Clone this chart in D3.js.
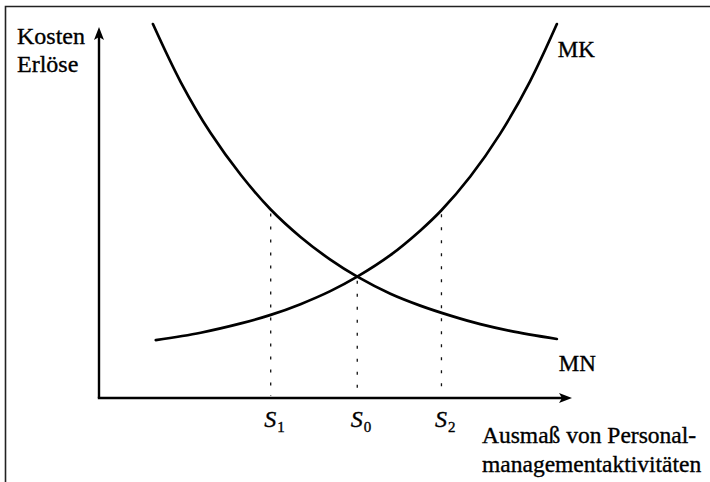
<!DOCTYPE html>
<html>
<head>
<meta charset="utf-8">
<script src="https://cdn.jsdelivr.net/npm/d3@7"></script>
<style>
  html, body { margin: 0; padding: 0; background: #fff; }
  svg { display: block; }
  text { font-family: "Liberation Serif", "Times New Roman", serif; fill: #000; stroke: #000; stroke-width: 0.35px; }
</style>
</head>
<body>
<svg id="chart" width="710" height="482"></svg>
<script>
// ---- data (arbitrary units 0..100) ----
const mnX = [11.4, 17.3, 23.6, 30.0, 36.3, 42.6, 48.9, 54.6, 61.6, 67.9, 74.3, 80.6, 86.9, 96.8];
const mnY = [100.8, 85.1, 71.4, 60.1, 50.8, 43.4, 37.3, 32.7, 28.1, 24.9, 22.2, 19.9, 18.1, 15.9];
const mkX = [12.0, 21.5, 30.0, 36.3, 42.6, 48.9, 54.6, 61.6, 67.9, 72.4, 78.5, 84.8, 91.1, 96.8];
const mkY = [15.6, 17.6, 20.1, 22.4, 25.3, 28.8, 32.7, 38.5, 45.1, 50.6, 59.7, 71.2, 85.3, 100.8];
const tickValues = [36.3, 54.6, 72.4];
const tickSubs = ["1", "0", "2"];
const tickTops = [50.8, 32.7, 50.6];
const seriesNames = ["MK", "MN"];
const yLabel = ["Kosten", "Erlöse"];
const xLabel = ["Ausmaß von Personal-", "managementaktivitäten"];

const svg = d3.select("#chart");
const x = d3.scaleLinear().domain([0, 100]).range([99, 572]);
const y = d3.scaleLinear().domain([0, 100]).range([398, 27]);

// frame (top + left)
svg.append("path")
  .attr("d", "M5.5,482 L5.5,6.5 L710,6.5")
  .attr("fill", "none").attr("stroke", "#222").attr("stroke-width", 1.6);

// dotted guide lines
svg.selectAll("line.guide").data(tickValues).join("line")
  .attr("class", "guide")
  .attr("x1", d => x(d)).attr("x2", d => x(d))
  .attr("y1", (d, i) => y(tickTops[i]) + 4).attr("y2", y(0) - 2)
  .attr("stroke", "#111").attr("stroke-width", 1.3)
  .attr("stroke-dasharray", "3,10");

// x axis through d3 axis (labels customised)
const xAxis = d3.axisBottom(x).tickValues(tickValues).tickSize(0).tickSizeOuter(0).tickFormat("");
const gx = svg.append("g").attr("transform", `translate(0,${y(0)})`).call(xAxis);
gx.select(".domain").remove();
gx.selectAll(".tick").each(function(d, i) {
  const t = d3.select(this).append("text")
    .attr("x", -7).attr("y", 29)
    .attr("text-anchor", "start")
    .attr("fill", "#000")
    .style("font-family", '"Liberation Serif", "Times New Roman", serif');
  t.append("tspan").attr("font-size", 24).attr("font-style", "italic").text("S");
  t.append("tspan").attr("font-size", 15).attr("dx", 1).attr("dy", 5).text(tickSubs[i]);
});

// axes lines
const axisColor = "#000";
svg.append("line")
  .attr("x1", x(0)).attr("y1", y(0)).attr("x2", x(0)).attr("y2", y(100) + 8)
  .attr("stroke", axisColor).attr("stroke-width", 2.4);
svg.append("line")
  .attr("x1", x(0) - 1.2).attr("y1", y(0)).attr("x2", x(100) - 8).attr("y2", y(0))
  .attr("stroke", axisColor).attr("stroke-width", 2.4);
// arrowheads
const ax = x(0), ay = y(100);
svg.append("path")
  .attr("d", `M${ax},${ay} L${ax + 5},${ay + 13} L${ax},${ay + 10} L${ax - 5},${ay + 13} Z`)
  .attr("fill", axisColor);
const bx = x(100), by = y(0);
svg.append("path")
  .attr("d", `M${bx},${by} L${bx - 13},${by - 5} L${bx - 10},${by} L${bx - 13},${by + 5} Z`)
  .attr("fill", axisColor);

// curves
const line = d3.line().x(d => x(d[0])).y(d => y(d[1])).curve(d3.curveCatmullRom.alpha(0.5));
const mn = mnX.map((v, i) => [v, mnY[i]]);
const mk = mkX.map((v, i) => [v, mkY[i]]);
svg.selectAll("path.curve").data([mk, mn]).join("path")
  .attr("class", "curve")
  .attr("d", line)
  .attr("fill", "none").attr("stroke", "#000").attr("stroke-width", 2.7)
  .attr("stroke-linecap", "round");

// curve labels
svg.append("text").attr("x", x(mkX[mkX.length - 1]) + 1).attr("y", 57)
  .attr("font-size", 23).text(seriesNames[0]);
svg.append("text").attr("x", x(mnX[mnX.length - 1]) + 2).attr("y", 371)
  .attr("font-size", 23).text(seriesNames[1]);

// y label
svg.selectAll("text.ylab").data(yLabel).join("text")
  .attr("class", "ylab")
  .attr("x", 17).attr("y", (d, i) => 44 + i * 28)
  .attr("font-size", 24).text(d => d);

// x label
svg.selectAll("text.xlab").data(xLabel).join("text")
  .attr("class", "xlab")
  .attr("x", 482).attr("y", (d, i) => 443 + i * 29)
  .attr("font-size", 23.5).text(d => d);
</script>
</body>
</html>
